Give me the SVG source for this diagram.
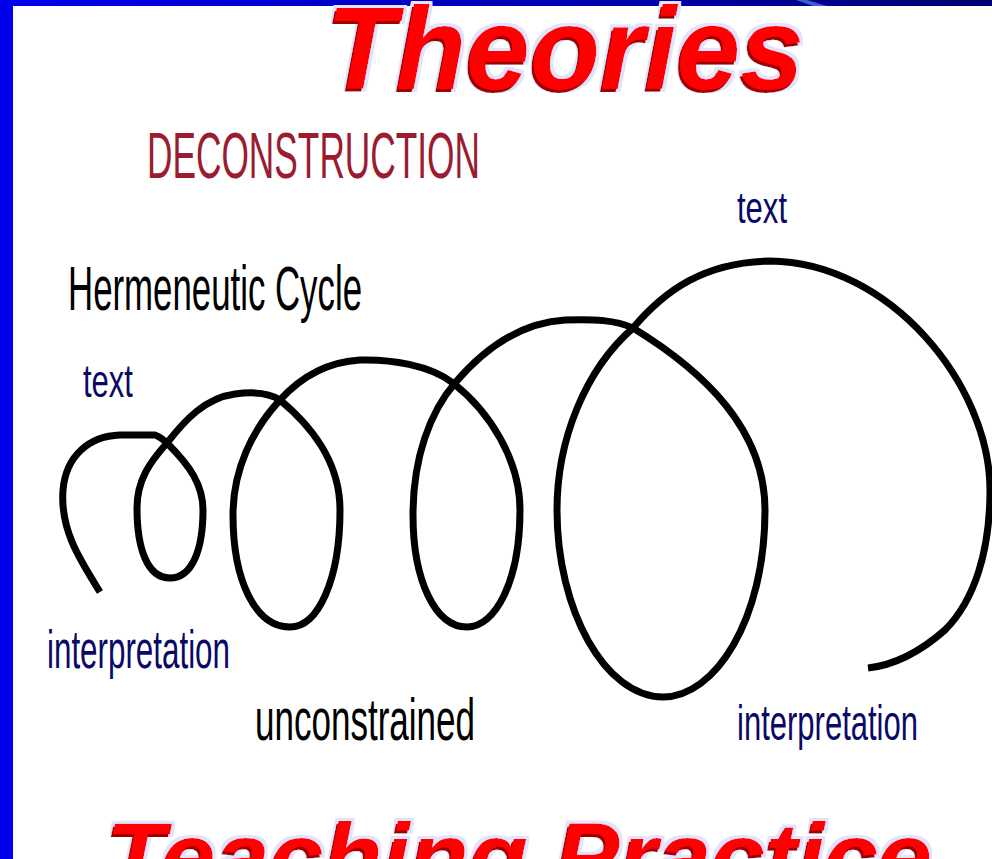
<svg xmlns="http://www.w3.org/2000/svg" width="992" height="859" viewBox="0 0 992 859">
  <defs>
    <linearGradient id="topbar" x1="0" y1="0" x2="1" y2="0">
      <stop offset="0" stop-color="#0000ee"/>
      <stop offset="0.6" stop-color="#0000b0"/>
      <stop offset="1" stop-color="#000070"/>
    </linearGradient>
    <filter id="bevel" x="-5%" y="-10%" width="110%" height="125%">
      <feMorphology in="SourceAlpha" operator="dilate" radius="3" result="dil"/>
      <feFlood flood-color="#e2e4ff" result="lav"/>
      <feComposite in="lav" in2="dil" operator="in" result="glow"/>
      <feOffset in="SourceAlpha" dx="-2" dy="3" result="off"/>
      <feFlood flood-color="#a00000" result="dark"/>
      <feComposite in="dark" in2="off" operator="in" result="shadow"/>
      <feMerge>
        <feMergeNode in="glow"/>
        <feMergeNode in="shadow"/>
        <feMergeNode in="SourceGraphic"/>
      </feMerge>
    </filter>
    <style>
      .title { font-family: "Liberation Sans", Arial, sans-serif; font-weight: bold; font-style: italic; fill: #ff0000; filter: url(#bevel); }
      .lbl { font-family: "Liberation Sans", Arial, sans-serif; }
      .navy { fill: #0a0a66; }
      .blk { fill: #000000; }
      .spiral { fill: none; stroke: #000000; stroke-width: 7; stroke-linecap: butt; stroke-linejoin: round; }
    </style>
  </defs>

  <rect x="0" y="0" width="992" height="859" fill="#ffffff"/>

  <g id="frame">
    <rect x="0" y="0" width="992" height="6" fill="url(#topbar)"/>
    <polygon points="796,0 807,0 827,6 813,6" fill="#3a5fcd"/>
    <rect x="0" y="0" width="13" height="859" fill="#0000ee"/>
  </g>

  <g id="title-theories">
    <text class="title" x="326" y="89" font-size="116" textLength="478" lengthAdjust="spacingAndGlyphs">Theories</text>
  </g>

  <g id="title-teaching">
    <text class="title" x="106" y="888" font-size="92" textLength="826" lengthAdjust="spacingAndGlyphs">Teaching Practice</text>
  </g>

  <g id="deconstruction">
    <text class="lbl" x="147" y="178" font-size="64" fill="#9b1b30" textLength="333" lengthAdjust="spacingAndGlyphs">DECONSTRUCTION</text>
  </g>

  <g id="hermeneutic-cycle">
    <text class="lbl blk" x="68" y="310" font-size="63" textLength="294" lengthAdjust="spacingAndGlyphs">Hermeneutic Cycle</text>
  </g>

  <g id="connectors">
    <path class="spiral" d="M100,592
      C80,560 60,530 63,490
      C66,455 90,436 120,435
      L155,435
      C161,437 164,440 168,444
      C190,466 203,485 203,510
      C203,550 192,578 170,578
      C147,578 137,548 137,508
      C137,480 150,462 167,443
      C185,420 205,398 235,394
      C250,392 268,392 280,400
      C310,425 340,460 340,510
      C340,580 318,627 290,627
      C255,627 233,580 233,515
      C233,470 252,430 280,400
      C300,378 325,362 360,360
      C390,359 430,365 453,383
      C490,412 520,460 520,510
      C520,582 495,627 467,627
      C435,627 413,580 413,515
      C413,458 430,412 455,383
      C478,356 515,323 565,320
      C595,319 615,320 633,328
      C705,372 765,430 765,510
      C765,620 715,697 663,697
      C605,697 557,610 557,510
      C557,440 585,370 633,328
      C665,290 705,262 770,261
      C890,262 990,385 990,490
      C990,550 975,600 945,630
      C920,652 895,665 868,668"/>
  </g>

  <g id="text-left">
    <text class="lbl navy" x="83" y="397" font-size="46" textLength="50" lengthAdjust="spacingAndGlyphs">text</text>
  </g>
  <g id="text-right">
    <text class="lbl navy" x="737" y="223" font-size="44" textLength="50" lengthAdjust="spacingAndGlyphs">text</text>
  </g>
  <g id="interpretation-left">
    <text class="lbl navy" x="47" y="668" font-size="54" textLength="183" lengthAdjust="spacingAndGlyphs">interpretation</text>
  </g>
  <g id="interpretation-right">
    <text class="lbl navy" x="737" y="740" font-size="50" textLength="181" lengthAdjust="spacingAndGlyphs">interpretation</text>
  </g>
  <g id="unconstrained">
    <text class="lbl blk" x="255" y="740" font-size="60" textLength="220" lengthAdjust="spacingAndGlyphs">unconstrained</text>
  </g>
</svg>
